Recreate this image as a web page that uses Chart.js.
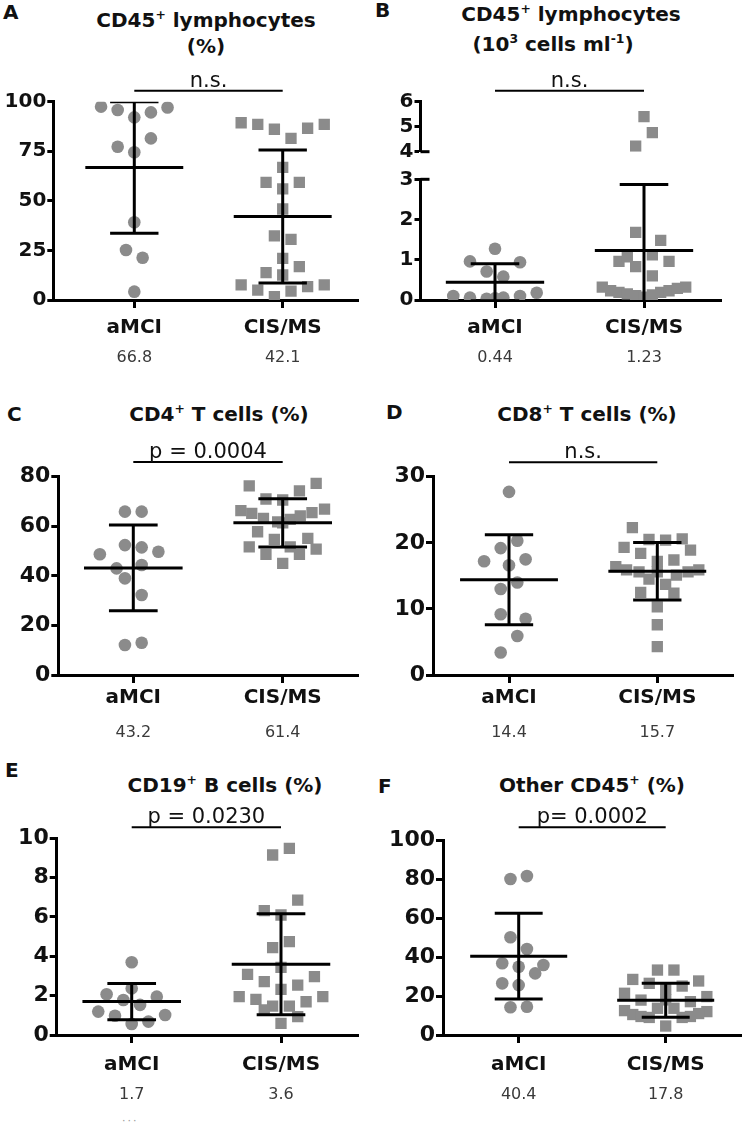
<!DOCTYPE html>
<html>
<head>
<meta charset="utf-8">
<script src="https://cdn.jsdelivr.net/npm/chart.js@4.4.1/dist/chart.umd.min.js"></script>
<style>
  body { margin: 0; background: #fff; }
  #page { position: relative; width: 746px; height: 1130px; overflow: hidden; font-family: "DejaVu Sans", sans-serif; color: #111; }
  canvas { position: absolute; }
  .lbl { position: absolute; font-weight: bold; font-size: 20px; line-height: 24px; }
  .ttl { position: absolute; font-weight: bold; font-size: 20px; line-height: 24px; white-space: nowrap; transform: translateX(-50%); }
  sup { font-size: 62%; line-height: 0; vertical-align: 0.62em; }
  .dots { position: absolute; font-size: 11px; color: #999; letter-spacing: 2px; }
</style>
</head>
<body>
<div id="page">
  <div class="lbl" style="left:3px;top:0px">A</div>
  <div class="ttl" style="left:206px;top:8px">CD45<sup>+</sup> lymphocytes</div>
  <div class="ttl" style="left:206px;top:34px">(%)</div>

  <div class="lbl" style="left:375px;top:-2px">B</div>
  <div class="ttl" style="left:571px;top:2px">CD45<sup>+</sup> lymphocytes</div>
  <div class="ttl" style="left:553px;top:32px">(10<sup>3</sup> cells ml<sup>-1</sup>)</div>

  <div class="lbl" style="left:7px;top:402px">C</div>
  <div class="ttl" style="left:219px;top:402px">CD4<sup>+</sup> T cells (%)</div>

  <div class="lbl" style="left:386px;top:400px">D</div>
  <div class="ttl" style="left:587px;top:402px">CD8<sup>+</sup> T cells (%)</div>

  <div class="lbl" style="left:5px;top:758px">E</div>
  <div class="ttl" style="left:225px;top:773px">CD19<sup>+</sup> B cells (%)</div>

  <div class="lbl" style="left:378px;top:774px">F</div>
  <div class="ttl" style="left:592px;top:773px">Other CD45<sup>+</sup> (%)</div>

  <div class="dots" style="left:122px;top:1114px">&middot;&middot;&middot;</div>

  <canvas id="cA" width="373" height="380" style="left:0;top:0"></canvas>
  <canvas id="cB" width="373" height="380" style="left:373px;top:0"></canvas>
  <canvas id="cC" width="373" height="410" style="left:0;top:340px"></canvas>
  <canvas id="cD" width="373" height="410" style="left:373px;top:340px"></canvas>
  <canvas id="cE" width="373" height="410" style="left:0;top:720px"></canvas>
  <canvas id="cF" width="373" height="410" style="left:373px;top:720px"></canvas>
</div>

<script>
const groups = ["aMCI", "CIS/MS"];

// ---------------- A: CD45+ lymphocytes (%) ----------------
const aAmci    = [97.5, 95.8, 92.1, 94.6, 97.1, 77.3, 74.5, 81.5, 39.2, 25.2, 21.3, 4.2];
const aAmciCol = [-4, -2, 0, 2, 4, -2, 0, 2, 0, -1, 1, 0];
const aCis     = [89.4, 88.6, 86.1, 81.5, 86.6, 88.6, 66.9, 59.3, 59.3, 56.0, 45.9, 32.3,
                  30.6, 21.0, 13.8, 16.8, 12.6, 7.6, 5.0, 1.7, 4.5, 6.7, 7.6];
const aCisCol  = [-5, -3, -1, 1, 3, 5, 0, -2, 2, 0, 0, -1, 1, 0, -2, 2, 0, -5, -3, -1, 1, 3, 5];
const aMean = [66.8, 42.1];
const aSd   = [33.2, 33.5];
const aSig  = "n.s.";
const aTicks = [0, 25, 50, 75, 100];

// ---------------- B: CD45+ lymphocytes (10^3 cells/ml) ----------------
const bAmci    = [1.275, 0.96, 0.94, 0.71, 0.58, 0.10, 0.06, 0.03, 0.06, 0.10, 0.18, 0.04];
const bAmciCol = [0, -3, 3, -1, 1, -5, -3, -1, 1, 3, 5, 0];
const bCis     = [5.4, 4.76, 4.22, 1.68, 1.48, 1.125, 0.96, 1.07, 0.96, 0.83, 0.6,
                  0.32, 0.23, 0.19, 0.15, 0.11, 0.07, 0.125, 0.19, 0.23, 0.29, 0.32];
const bCisCol  = [0, 1, -1, -1, 2, 1, -3, -2, 3, -1, 1, -5, -4, -3, -2, -1, 0, 1, 2, 3, 4, 5];
const bMean = [0.44, 1.23];
const bSd   = [0.46, 1.64];
const bSig  = "n.s.";
const bTicksLow  = [0, 1, 2, 3];
const bTicksHigh = [4, 5, 6];

// ---------------- C: CD4+ T cells (%) ----------------
const cAmci    = [65.9, 65.9, 52.4, 51.5, 48.7, 49.7, 43.0, 44.4, 39.0, 32.3, 12.1, 13.0];
const cAmciCol = [-1, 1, -1, 1, -4, 3, -2, 1, -1, 1, -1, 1];
const cCis     = [76.3, 77.3, 71.0, 70.6, 74.3, 66.3, 65.2, 63.2, 61.8, 62.8, 64.2, 65.5,
                  66.9, 57.8, 54.7, 55.1, 51.7, 51.7, 50.8, 48.7, 48.7, 45.0, 61.4];
const cCisCol  = [-4, 4, -2, 0, 2, -5, -3.7, -2.3, -0.6, 0.9, 2.1, 3.5, 5, -3, -1, 3, -4, 0.9, 4, -2, 2, 0, 0];
const cMean = [43.2, 61.4];
const cSd   = [17.3, 9.75];
const cSig  = "p = 0.0004";
const cTicks = [0, 20, 40, 60, 80];

// ---------------- D: CD8+ T cells (%) ----------------
const dAmci    = [27.7, 19.2, 20.3, 17.2, 16.6, 17.5, 14.0, 13.0, 9.2, 8.5, 5.9, 3.4];
const dAmciCol = [0, -1, 1, -3, 0, 2, 1, -1, -1, 2, 1, -1];
const dCis     = [22.3, 19.3, 20.5, 20.4, 20.6, 18.9, 18.4, 17.2, 17.4, 16.4, 15.9, 15.6,
                  14.5, 13.7, 15.1, 15.6, 15.9, 12.5, 12.4, 10.3, 7.6, 4.3, 15.6];
const dCisCol  = [-3, -4, -1, 1, 3, 4, -2, 0, 2, -5, -3.7, -2.2, -1, 1, 2.3, 3.7, 5, -2, 2, 0, 0, 0, 0];
const dMean = [14.4, 15.7];
const dSd   = [6.8, 4.35];
const dSig  = "n.s.";
const dTicks = [0, 10, 20, 30];

// ---------------- E: CD19+ B cells (%) ----------------
const eAmci    = [3.70, 2.07, 1.95, 1.78, 2.37, 1.53, 1.19, 0.98, 1.02, 0.56, 0.68];
const eAmciCol = [0, -3, 3, -1, 0, 1, -4, -2, 4, 0, 2];
const eCis     = [9.15, 9.49, 6.86, 6.32, 6.10, 4.44, 4.75, 3.44, 3.08, 2.71, 2.32, 2.54,
                  2.97, 1.95, 1.81, 1.47, 1.47, 1.69, 1.95, 1.27, 0.59, 0.93];
const eCisCol  = [-1, 1, 2, -2, 0, -1, 1, 0, -4, -2, 0, 2, 4, -5, -3, -1, 1, 3, 5, -2, 0, 2];
const eMean = [1.7, 3.6];
const eSd   = [0.92, 2.57];
const eSig  = "p = 0.0230";
const eTicks = [0, 2, 4, 6, 8, 10];

// ---------------- F: Other CD45+ (%) ----------------
const fAmci    = [80.0, 81.5, 50.1, 44.1, 36.8, 35.0, 35.9, 31.6, 26.5, 25.6, 14.2, 14.5];
const fAmciCol = [-1, 1, -1, 1, -2, 0, 3, 2, -2, 0, -1, 1];
const fCis     = [33.3, 33.3, 28.5, 27.7, 26.5, 25.1, 23.4, 21.4, 19.7, 17.9, 17.1, 18.0,
                  13.7, 13.7, 12.5, 12.0, 10.5, 9.5, 9.0, 9.0, 9.5, 11.0, 4.6];
const fCisCol  = [-1, 1, -4, 4, -2, 2, 0, -5, 5, -3, 3, 0, -1, 1, -5, 5, -4, -3, -2, 2, 3, 4, 0];
const fMean = [40.4, 17.8];
const fSd   = [22.0, 8.75];
const fSig  = "p= 0.0002";
const fTicks = [0, 20, 40, 60, 80, 100];

// ---------------- STYLE ----------------
const FONT = '"DejaVu Sans", sans-serif';
const GREY = "#8b8b8b";
const JITTER = 0.056;     // x units per jitter slot
const MEAN_HALF = 0.33;   // half width of mean line (x units)
const CAP_HALF = 0.163;   // half width of SD caps (x units)
Chart.defaults.font.family = FONT;

// layout of each panel inside its canvas (pixels)
const panels = [
  { id: "cA", axisX: 53.3, right: 358, top: 101.7, bottom: 300, cats: [134.3, 282.7], tickFont: 20, yTickLen: 6, xPad: 8, meanDy: 58, sigDy: 11,
    amci: aAmci, amciCol: aAmciCol, cis: aCis, cisCol: aCisCol, mean: aMean, sd: aSd, sig: aSig, ticks: aTicks },
  { id: "cB", axisX: 47.5, right: 348, top: 101.7, bottom: 300, cats: [122, 271], tickFont: 20, yTickLen: 6, xPad: 8, meanDy: 58, sigDy: 11,
    amci: bAmci, amciCol: bAmciCol, cis: bCis, cisCol: bCisCol, mean: bMean, sd: bSd, sig: bSig, broken: true },
  { id: "cC", axisX: 58.3, right: 358, top: 136.7, bottom: 335, cats: [133.3, 282.7], tickFont: 22, yTickLen: 7, xPad: 3, meanDy: 58, sigDy: 14.7,
    amci: cAmci, amciCol: cAmciCol, cis: cCis, cisCol: cCisCol, mean: cMean, sd: cSd, sig: cSig, ticks: cTicks },
  { id: "cD", axisX: 60, right: 360, top: 136.7, bottom: 335, cats: [136, 284.3], tickFont: 22, yTickLen: 7, xPad: 3, meanDy: 58, sigDy: 14.4,
    amci: dAmci, amciCol: dAmciCol, cis: dCis, cisCol: dCisCol, mean: dMean, sd: dSd, sig: dSig, ticks: dTicks },
  { id: "cE", axisX: 56.7, right: 358, top: 118.3, bottom: 315, cats: [131.7, 281], tickFont: 22, yTickLen: 7, xPad: 10, meanDy: 60, sigDy: 11,
    amci: eAmci, amciCol: eAmciCol, cis: eCis, cisCol: eCisCol, mean: eMean, sd: eSd, sig: eSig, ticks: eTicks },
  { id: "cF", axisX: 70, right: 368, top: 120, bottom: 315, cats: [145.7, 292.7], tickFont: 22, yTickLen: 7, xPad: 10, meanDy: 60, sigDy: 12.7,
    amci: fAmci, amciCol: fAmciCol, cis: fCis, cisCol: fCisCol, mean: fMean, sd: fSd, sig: fSig, ticks: fTicks }
];

// ---------------- DATASETS ----------------
function dots(vals, cols, group, style, axisId) {
  return {
    type: "scatter",
    data: vals.map((v, i) => ({ x: group + 1 + cols[i] * JITTER, y: v })),
    pointStyle: style,
    pointRadius: style === "rect" ? 8 : 6.3,
    pointHoverRadius: style === "rect" ? 8 : 6.3,
    backgroundColor: GREY,
    borderWidth: 0,
    yAxisID: axisId,
    order: 1
  };
}

// mean line + SD whiskers, broken into segments with null points
function errorBars(means, sds, axisId) {
  const pts = [];
  means.forEach((m, i) => {
    const c = i + 1, lo = m - sds[i], hi = m + sds[i];
    pts.push({ x: c - MEAN_HALF, y: m }, { x: c + MEAN_HALF, y: m }, { x: c, y: null });
    pts.push({ x: c, y: lo }, { x: c, y: hi }, { x: c, y: null });
    pts.push({ x: c - CAP_HALF, y: hi }, { x: c + CAP_HALF, y: hi }, { x: c, y: null });
    pts.push({ x: c - CAP_HALF, y: lo }, { x: c + CAP_HALF, y: lo }, { x: c, y: null });
  });
  return {
    type: "line",
    data: pts,
    borderColor: "#000",
    borderWidth: 3,
    pointRadius: 0,
    pointHoverRadius: 0,
    fill: false,
    tension: 0,
    spanGaps: false,
    yAxisID: axisId,
    order: 0
  };
}

function yScale(ticks, p, extra) {
  return Object.assign({
    type: "linear",
    position: "left",
    min: ticks[0],
    max: ticks[ticks.length - 1],
    afterBuildTicks: s => { s.ticks = ticks.map(v => ({ value: v })); },
    afterFit: s => { s.width = p.axisX; },
    ticks: { font: { family: FONT, size: p.tickFont, weight: "bold" }, color: "#111", padding: 1, autoSkip: false },
    grid: { drawOnChartArea: false, drawTicks: true, tickLength: p.yTickLen, tickWidth: 3, color: "#000", tickColor: "#000" },
    border: { display: true, color: "#000", width: 3 }
  }, extra);
}

// significance bar, group means and the axis break marks
const decor = {
  id: "decor",
  afterDraw(chart, args, opts) {
    const p = opts.panel;
    const { ctx, chartArea } = chart;
    const xs = chart.scales.x;
    const x1 = xs.getPixelForValue(1), x2 = xs.getPixelForValue(2);
    ctx.save();
    const ly = chartArea.top - p.sigDy;
    ctx.strokeStyle = "#000";
    ctx.lineWidth = 2;
    ctx.beginPath();
    ctx.moveTo(x1, ly);
    ctx.lineTo(x2, ly);
    ctx.stroke();
    ctx.fillStyle = "#111";
    ctx.font = "21px " + FONT;
    ctx.textAlign = "center";
    ctx.textBaseline = "alphabetic";
    ctx.fillText(p.sig, (x1 + x2) / 2, ly - 4);

    ctx.font = "16px " + FONT;
    ctx.fillStyle = "#3a3a3a";
    ctx.textBaseline = "middle";
    p.mean.forEach((m, i) => {
      ctx.fillText(String(m), xs.getPixelForValue(i + 1), chartArea.bottom + p.meanDy);
    });

    if (p.broken) {
      ctx.lineWidth = 3;
      const ax = chartArea.left;
      [chart.scales.yHi.getPixelForValue(bTicksHigh[0]),
       chart.scales.yLo.getPixelForValue(bTicksLow[bTicksLow.length - 1])].forEach(py => {
        ctx.beginPath();
        ctx.moveTo(ax, py);
        ctx.lineTo(ax + 9, py);
        ctx.stroke();
      });
    }
    ctx.restore();
  }
};

function build(p) {
  const canvas = document.getElementById(p.id);
  const W = canvas.width, H = canvas.height;
  const ppu = p.cats[1] - p.cats[0];
  const xMin = 1 - (p.cats[0] - p.axisX) / ppu;
  const xMax = 2 + (p.right - p.cats[1]) / ppu;

  const scales = {
    x: {
      type: "linear",
      min: xMin,
      max: xMax,
      afterBuildTicks: s => { s.ticks = groups.map((g, i) => ({ value: i + 1 })); },
      afterFit: s => { s.height = H - p.bottom; },
      ticks: {
        callback: (v, i) => groups[i],
        font: { family: FONT, size: 20, weight: "bold" },
        color: "#111",
        padding: p.xPad,
        maxRotation: 0,
        autoSkip: false
      },
      grid: { drawOnChartArea: false, drawTicks: true, tickLength: 8, tickWidth: 3, color: "#000", tickColor: "#000" },
      border: { display: true, color: "#000", width: 3 }
    }
  };

  const datasets = [];
  if (!p.broken) {
    scales.y = yScale(p.ticks, p, {});
    datasets.push(errorBars(p.mean, p.sd, "y"));
    datasets.push(dots(p.amci, p.amciCol, 0, "circle", "y"));
    datasets.push(dots(p.cis, p.cisCol, 1, "rect", "y"));
  } else {
    // broken axis: 4-6 on top, empty gap, 0-3 below
    scales.yHi = yScale(bTicksHigh, p, { stack: "b", stackWeight: 50, weight: 3 });
    scales.yGap = {
      type: "linear", position: "left", min: 0, max: 1,
      stack: "b", stackWeight: 27.6, weight: 2,
      afterFit: s => { s.width = p.axisX; },
      ticks: { display: false }, grid: { display: false }, border: { display: false }
    };
    scales.yLo = yScale(bTicksLow, p, { stack: "b", stackWeight: 120.7, weight: 1 });
    const split = bTicksLow[bTicksLow.length - 1];
    datasets.push(errorBars(p.mean, p.sd, "yLo"));
    datasets.push(dots(p.amci, p.amciCol, 0, "circle", "yLo"));
    datasets.push(dots(p.cis.filter(v => v <= split), p.cisCol.filter((c, i) => p.cis[i] <= split), 1, "rect", "yLo"));
    datasets.push(dots(p.cis.filter(v => v > split), p.cisCol.filter((c, i) => p.cis[i] > split), 1, "rect", "yHi"));
  }

  return new Chart(canvas, {
    type: "scatter",
    data: { datasets },
    options: {
      responsive: false,
      animation: false,
      events: [],
      layout: { padding: { top: p.top, right: W - p.right, left: 0, bottom: 0 }, autoPadding: false },
      scales,
      plugins: { legend: { display: false }, tooltip: { enabled: false }, decor: { panel: p } }
    },
    plugins: [decor]
  });
}

panels.forEach(build);
</script>
</body>
</html>
